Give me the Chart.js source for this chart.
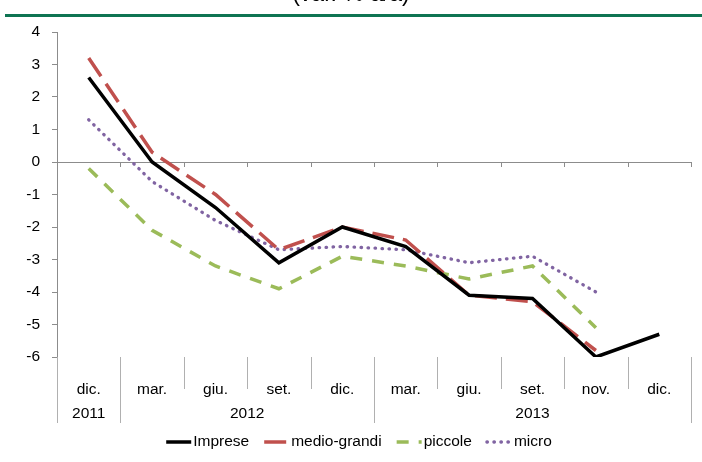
<!DOCTYPE html>
<html lang="it">
<head>
<meta charset="utf-8">
<title>Prestiti alle imprese</title>
<script src="https://cdn.jsdelivr.net/npm/chart.js@4"></script>
<style>
  html, body { margin: 0; padding: 0; background: #fff; }
  #wrap { position: relative; width: 702px; height: 462px; overflow: hidden; }
  #subtitle {
    position: absolute; left: 0; right: 0; top: -20px;
    text-align: center; font: 23px "Liberation Sans", Arial, sans-serif; color: #000;
  }
  #rule { position: absolute; left: 5px; right: 0; top: 14px; height: 3px; background: #0e7452; }
  #chart { position: absolute; left: 0; top: 0; }
</style>
</head>
<body>
<div id="wrap">
  <canvas id="chart" width="702" height="462"></canvas>
  <div id="subtitle">(var. % a/a)</div>
  <div id="rule"></div>
</div>
<script>
const months = ["dic.", "mar.", "giu.", "set.", "dic.", "mar.", "giu.", "set.", "nov.", "dic."];
const yearLabels = ["2011", "2012", "2013"];
const yearStarts = [0, 1, 5];   // index of first month of each year group

const imprese     = [2.6, 0.0, -1.4, -3.1, -2.0, -2.6, -4.1, -4.2, -6.0, -5.3];
const medioGrandi = [3.2, 0.3, -1.0, -2.7, -2.0, -2.4, -4.1, -4.3, -5.8, null];
const piccole     = [-0.2, -2.1, -3.2, -3.9, -2.9, -3.2, -3.6, -3.2, -5.1, null];
const micro       = [1.3, -0.6, -1.8, -2.7, -2.6, -2.7, -3.1, -2.9, -4.0, null];

const FONT = '"Liberation Sans Narrow", "Liberation Sans", Arial, sans-serif';
const FONT_SIZE = 15.5;
const AXIS_GREY = "#8c8c8c";

// category separators, year row, zero-line ticks and legend
const axisDecor = {
  id: "axisDecor",
  afterDraw(chart) {
    const { ctx, chartArea } = chart;
    const y = chart.scales.y;
    const n = months.length;
    const step = (chartArea.right - chartArea.left) / n;
    const edge = i => chartArea.left + i * step;
    const y0 = y.getPixelForValue(0);
    const monthBottom = chartArea.bottom + 32;
    const yearBottom = chartArea.bottom + 66;

    ctx.save();
    ctx.lineWidth = 1;
    ctx.strokeStyle = AXIS_GREY;
    ctx.beginPath();
    for (let i = 1; i <= n; i++) {
      const px = Math.round(edge(i)) + 0.5;
      ctx.moveTo(px, y0);
      ctx.lineTo(px, y0 + 5);
    }
    ctx.stroke();

    ctx.strokeStyle = "#b0b0b0";
    ctx.beginPath();
    for (let i = 0; i <= n; i++) {
      const px = Math.round(edge(i)) + 0.5;
      const full = i === n || yearStarts.includes(i);
      ctx.moveTo(px, chartArea.bottom);
      ctx.lineTo(px, full ? yearBottom : monthBottom);
    }
    ctx.stroke();

    ctx.fillStyle = "#000";
    ctx.font = FONT_SIZE + "px " + FONT;
    ctx.textAlign = "center";
    ctx.textBaseline = "middle";
    yearLabels.forEach((lab, k) => {
      const a = yearStarts[k];
      const b = k + 1 < yearStarts.length ? yearStarts[k + 1] : n;
      ctx.fillText(lab, (edge(a) + edge(b)) / 2, chartArea.bottom + 57);
    });

    // legend
    const ly = 442;
    const sw = 25, gap = 2, itemGap = 15;
    ctx.textAlign = "left";
    const items = chart.data.datasets.map(ds => ({ ds, w: ctx.measureText(ds.label).width }));
    const total = items.reduce((s, it) => s + sw + gap + it.w, 0) + itemGap * (items.length - 1);
    let lx = 359 - total / 2;
    items.forEach(({ ds, w }) => {
      ctx.save();
      ctx.strokeStyle = ds.borderColor;
      ctx.lineWidth = ds.borderWidth;
      ctx.lineCap = ds.borderCapStyle || "butt";
      ctx.setLineDash(ds.borderDash || []);
      ctx.beginPath();
      ctx.moveTo(lx, ly);
      ctx.lineTo(lx + sw, ly);
      ctx.stroke();
      ctx.restore();
      ctx.fillText(ds.label, lx + sw + gap, ly);
      lx += sw + gap + w + itemGap;
    });
    ctx.restore();
  }
};

const line = (label, data, color, extra) => Object.assign({
  label, data,
  borderColor: color,
  backgroundColor: color,
  borderWidth: 3.5,
  pointRadius: 0,
  tension: 0,
  fill: false,
}, extra);

new Chart(document.getElementById("chart"), {
  type: "line",
  data: {
    labels: months,
    datasets: [
      line("Imprese", imprese, "#000000", { borderJoinStyle: "miter" }),
      line("medio-grandi", medioGrandi, "#c0504d", { borderDash: [22, 9] }),
      line("piccole", piccole, "#9bbb59", { borderDash: [12, 10] }),
      line("micro", micro, "#8064a2", { borderWidth: 3.3, borderDash: [0.5, 6.5], borderCapStyle: "round" }),
    ],
  },
  options: {
    responsive: false,
    animation: false,
    layout: { padding: { left: 0, right: 11, top: 32, bottom: 0 } },
    plugins: { legend: { display: false }, tooltip: { enabled: false } },
    scales: {
      x: {
        offset: true,
        afterFit: s => { s.height = 105; },
        grid: { display: false },
        border: { display: false },
        ticks: { color: "#000", font: { family: FONT, size: FONT_SIZE }, padding: 15, maxRotation: 0 },
      },
      y: {
        min: -6, max: 4,
        afterFit: s => { s.width = 57; },
        border: { display: true, color: AXIS_GREY },
        grid: {
          color: c => c.tick && c.tick.value === 0 ? AXIS_GREY : "rgba(0,0,0,0)",
          tickColor: AXIS_GREY,
          tickLength: 5,
        },
        ticks: { stepSize: 1, color: "#000", font: { family: FONT, size: FONT_SIZE }, padding: 12 },
      },
    },
  },
  plugins: [axisDecor],
});
</script>
</body>
</html>
